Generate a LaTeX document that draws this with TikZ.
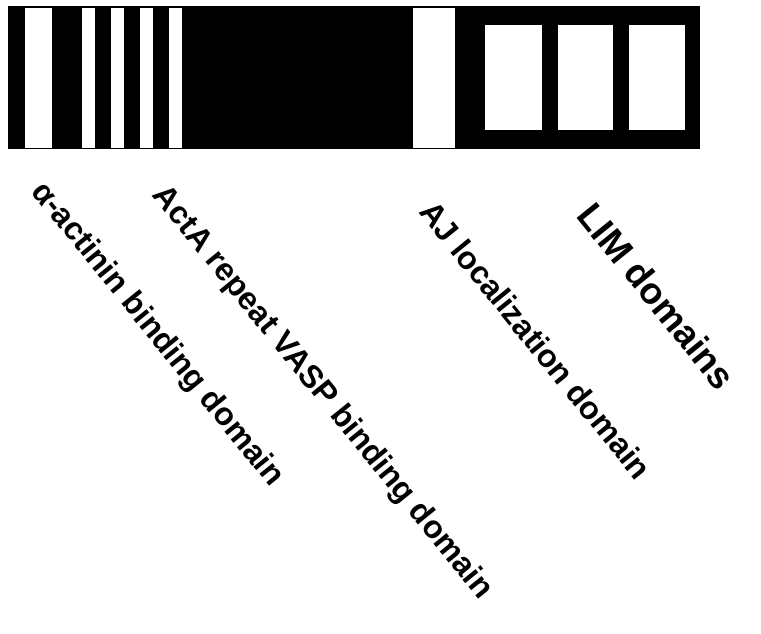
\documentclass[tikz,border=0pt]{standalone}
\usepackage{fontspec}
\setmainfont{Liberation Sans}
\begin{document}
\begin{tikzpicture}[x=1pt,y=-1pt,
  gap/.style={fill=white},
  label/.style={font=\fontsize{32}{38}\selectfont\bfseries, rotate=-51, inner sep=0pt, anchor=center},
  biglabel/.style={label, font=\fontsize{37}{44}\selectfont\bfseries}]
\useasboundingbox (0,0) rectangle (761,633);
% protein bar
\fill[black] (8,6) rectangle (700,149);
% alpha-actinin binding stripe
\fill[gap] (25,7.5) rectangle (52,147.5);
% ActA repeat stripes
\foreach \x in {82,111,140,169}
  \fill[gap] (\x,7.5) rectangle ({\x+13},147.5);
% AJ localization stripe
\fill[gap] (413,7.5) rectangle (455,147.5);
% LIM domains
\fill[gap] (485,25) rectangle (542,130);
\fill[gap] (558,25) rectangle (613,130);
\fill[gap] (629,25) rectangle (685,130);
% labels
\node[label] (actinin) at (157,335) {α-actinin binding domain};
\node[label] (acta) at (322,393) {ActA repeat VASP binding domain};
\node[label] (aj) at (536,340) {AJ localization domain};
\node[biglabel] (lim) at (657,296) {LIM domains};
\end{tikzpicture}
\end{document}
